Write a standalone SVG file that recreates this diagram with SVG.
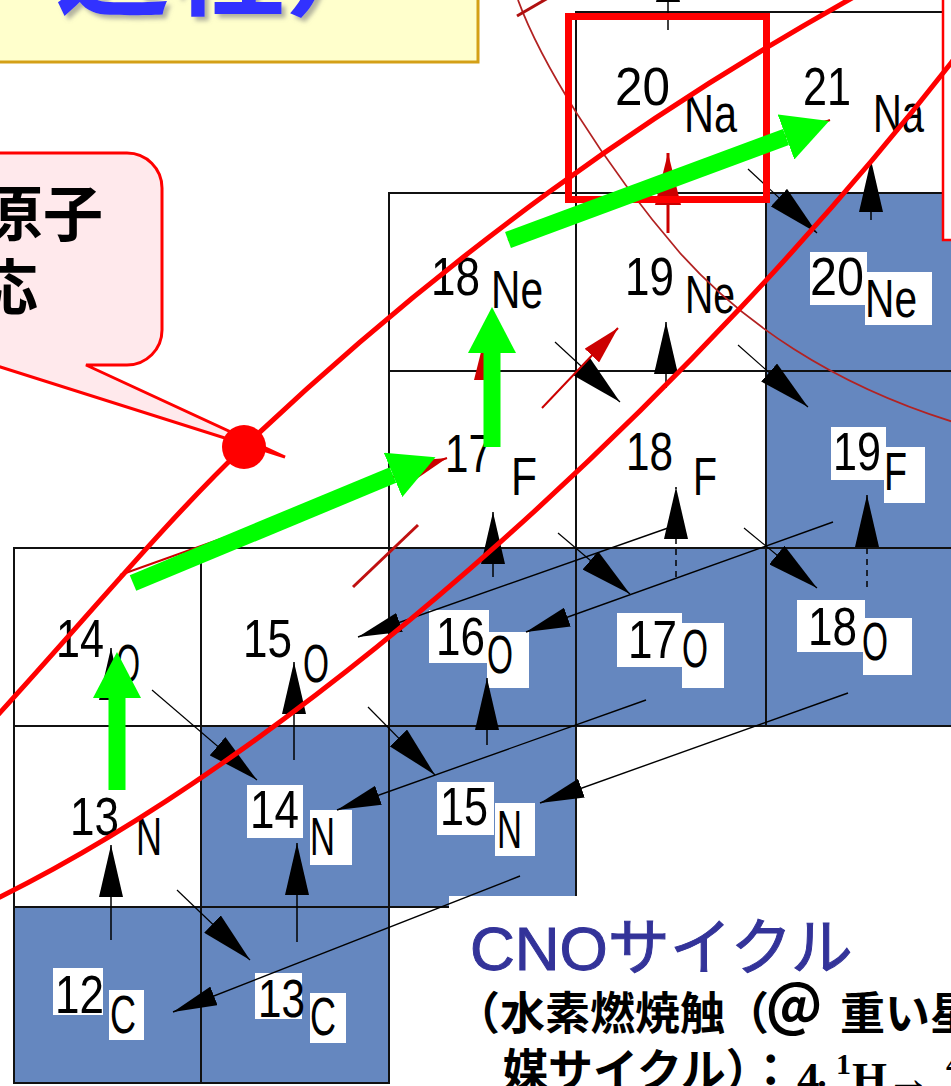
<svg xmlns="http://www.w3.org/2000/svg" width="951" height="1086" viewBox="0 0 951 1086">
<defs>
<style>
.cw{fill:#fff;stroke:#111;stroke-width:2}
.cb{fill:#6587BF;stroke:#111;stroke-width:2}
.lb{fill:#fff}
.t{font-family:'Liberation Sans',Arial,sans-serif;font-size:54px;fill:#000}
.up{stroke:#000;stroke-width:1.5;fill:none;marker-end:url(#hb)}
.dash{stroke-dasharray:6 5}
.dg{stroke:#000;stroke-width:1.2;fill:none;marker-end:url(#hb)}
.pa{stroke:#000;stroke-width:1.4;fill:none;marker-end:url(#hs)}
.rd{stroke:#CC0000;stroke-width:3;fill:none;marker-end:url(#hr)}
.rs{stroke:#CC0000;stroke-width:2;fill:none;marker-end:url(#hrs)}
.gr{stroke:#00FF00;stroke-width:17;fill:none;marker-end:url(#hg)}
.rc{stroke:#FF0000;stroke-width:5;fill:none}
.jp{font-family:'Noto Sans CJK JP',sans-serif}
</style>
<filter id="shadow" x="-10%" y="-50%" width="120%" height="200%"><feDropShadow dx="4" dy="4" stdDeviation="2" flood-color="#808080" flood-opacity="0.6"/></filter>
<marker id="hb" viewBox="0 -12 52 24" refX="52" refY="0" markerWidth="52" markerHeight="24" markerUnits="userSpaceOnUse" orient="auto"><path d="M0,-12L52,0L0,12Z" fill="#000"/></marker>
<marker id="hs" viewBox="0 -10 44 20" refX="44" refY="0" markerWidth="44" markerHeight="20" markerUnits="userSpaceOnUse" orient="auto"><path d="M0,-10L44,0L0,10Z" fill="#000"/></marker>
<marker id="hr" viewBox="0 -13 52 26" refX="52" refY="0" markerWidth="52" markerHeight="26" markerUnits="userSpaceOnUse" orient="auto"><path d="M0,-13L52,0L0,13Z" fill="#CC0000"/></marker>
<marker id="hrs" viewBox="0 -10 38 20" refX="38" refY="0" markerWidth="38" markerHeight="20" markerUnits="userSpaceOnUse" orient="auto"><path d="M0,-10L38,0L0,10Z" fill="#CC0000"/></marker>
<marker id="hg" viewBox="0 -24 46 48" refX="0" refY="0" markerWidth="46" markerHeight="48" markerUnits="userSpaceOnUse" orient="auto"><path d="M0,-24L46,0L0,24Z" fill="#00FF00"/></marker>
</defs>
<rect width="951" height="1086" fill="#fff"/>

<g id="title-box">
<rect x="-10" y="-10" width="488" height="72" fill="#FFFFCC" stroke="#D4A017" stroke-width="3"/>
<text x="55" y="6" class="jp" font-size="115" font-weight="700" fill="#3333FF" filter="url(#shadow)">過程）</text>
</g>

<g id="n20Na"><rect class="cw" x="576" y="12" width="190" height="181"/><text class="t" x="615" y="105" textLength="55" lengthAdjust="spacingAndGlyphs">20</text><text class="t" x="684" y="132" textLength="53" lengthAdjust="spacingAndGlyphs">Na</text></g>
<g id="n21Na"><rect class="cw" x="766" y="12" width="190" height="181"/><text class="t" x="803" y="105" textLength="48" lengthAdjust="spacingAndGlyphs">21</text><text class="t" x="873" y="132" textLength="51" lengthAdjust="spacingAndGlyphs">Na</text></g>
<g id="n18Ne"><rect class="cw" x="389" y="193" width="187" height="178"/><text class="t" x="431" y="295" textLength="49" lengthAdjust="spacingAndGlyphs">18</text><text class="t" x="491" y="308" textLength="52" lengthAdjust="spacingAndGlyphs">Ne</text></g>
<g id="n19Ne"><rect class="cw" x="576" y="193" width="190" height="178"/><text class="t" x="625" y="295" textLength="49" lengthAdjust="spacingAndGlyphs">19</text><text class="t" x="685" y="313" textLength="50" lengthAdjust="spacingAndGlyphs">Ne</text></g>
<g id="n20Ne"><rect class="cb" x="766" y="193" width="190" height="178"/><rect class="lb" x="810" y="252" width="57" height="53"/><rect class="lb" x="865" y="272" width="67" height="53"/><text class="t" x="810" y="295" textLength="54" lengthAdjust="spacingAndGlyphs">20</text><text class="t" x="865" y="317" textLength="52" lengthAdjust="spacingAndGlyphs">Ne</text></g>
<g id="n17F"><rect class="cw" x="389" y="371" width="187" height="177"/><text class="t" x="445" y="472" textLength="47" lengthAdjust="spacingAndGlyphs">17</text><text class="t" x="511" y="495" textLength="26" lengthAdjust="spacingAndGlyphs">F</text></g>
<g id="n18F"><rect class="cw" x="576" y="371" width="190" height="177"/><text class="t" x="626" y="470" textLength="47" lengthAdjust="spacingAndGlyphs">18</text><text class="t" x="693" y="495" textLength="24" lengthAdjust="spacingAndGlyphs">F</text></g>
<g id="n19F"><rect class="cb" x="766" y="371" width="190" height="177"/><rect class="lb" x="831" y="427" width="55" height="53"/><rect class="lb" x="884" y="447" width="41" height="56"/><text class="t" x="833" y="470" textLength="48" lengthAdjust="spacingAndGlyphs">19</text><text class="t" x="884" y="490" textLength="23" lengthAdjust="spacingAndGlyphs">F</text></g>
<g id="n14O"><rect class="cw" x="14" y="548" width="187" height="178"/><text class="t" x="56" y="657" textLength="48" lengthAdjust="spacingAndGlyphs">14</text><text class="t" x="116" y="682" textLength="24" lengthAdjust="spacingAndGlyphs">O</text></g>
<g id="n15O"><rect class="cw" x="201" y="548" width="188" height="178"/><text class="t" x="243" y="657" textLength="49" lengthAdjust="spacingAndGlyphs">15</text><text class="t" x="303" y="682" textLength="26" lengthAdjust="spacingAndGlyphs">O</text></g>
<g id="n16O"><rect class="cb" x="389" y="548" width="187" height="178"/><rect class="lb" x="429" y="610" width="60" height="53"/><rect class="lb" x="487" y="632" width="42" height="56"/><text class="t" x="436" y="655" textLength="49" lengthAdjust="spacingAndGlyphs">16</text><text class="t" x="487" y="673" textLength="26" lengthAdjust="spacingAndGlyphs">O</text></g>
<g id="n17O"><rect class="cb" x="576" y="548" width="190" height="178"/><rect class="lb" x="617" y="613" width="65" height="54"/><rect class="lb" x="682" y="623" width="42" height="65"/><text class="t" x="628" y="658" textLength="49" lengthAdjust="spacingAndGlyphs">17</text><text class="t" x="682" y="667" textLength="26" lengthAdjust="spacingAndGlyphs">O</text></g>
<g id="n18O"><rect class="cb" x="766" y="548" width="190" height="178"/><rect class="lb" x="797" y="600" width="68" height="52"/><rect class="lb" x="863" y="618" width="49" height="57"/><text class="t" x="808" y="645" textLength="49" lengthAdjust="spacingAndGlyphs">18</text><text class="t" x="862" y="660" textLength="26" lengthAdjust="spacingAndGlyphs">O</text></g>
<g id="n13N"><rect class="cw" x="14" y="726" width="187" height="181"/><text class="t" x="70" y="835" textLength="49" lengthAdjust="spacingAndGlyphs">13</text><text class="t" x="136" y="855" textLength="26" lengthAdjust="spacingAndGlyphs">N</text></g>
<g id="n14N"><rect class="cb" x="201" y="726" width="188" height="181"/><rect class="lb" x="247" y="785" width="56" height="53"/><rect class="lb" x="310" y="810" width="42" height="55"/><text class="t" x="250" y="828" textLength="49" lengthAdjust="spacingAndGlyphs">14</text><text class="t" x="310" y="855" textLength="25" lengthAdjust="spacingAndGlyphs">N</text></g>
<g id="n15N"><rect class="cb" x="389" y="726" width="187" height="181"/><rect class="lb" x="437" y="782" width="57" height="53"/><rect class="lb" x="495" y="803" width="40" height="53"/><text class="t" x="440" y="825" textLength="48" lengthAdjust="spacingAndGlyphs">15</text><text class="t" x="497" y="848" textLength="25" lengthAdjust="spacingAndGlyphs">N</text></g>
<g id="n12C"><rect class="cb" x="14" y="907" width="187" height="176"/><rect class="lb" x="53" y="968" width="50" height="47"/><rect class="lb" x="109" y="990" width="35" height="50"/><text class="t" x="55" y="1013" textLength="49" lengthAdjust="spacingAndGlyphs">12</text><text class="t" x="110" y="1033" textLength="26" lengthAdjust="spacingAndGlyphs">C</text></g>
<g id="n13C"><rect class="cb" x="201" y="907" width="188" height="176"/><rect class="lb" x="255" y="973" width="47" height="46"/><rect class="lb" x="310" y="993" width="36" height="50"/><text class="t" x="258" y="1017" textLength="47" lengthAdjust="spacingAndGlyphs">13</text><text class="t" x="310" y="1035" textLength="26" lengthAdjust="spacingAndGlyphs">C</text></g>

<rect id="caption-bg" x="449" y="896" width="510" height="200" fill="#fff"/>

<path id="arc" d="M518,0 C540,60 600,160 680,253 C740,320 830,385 960,424" fill="none" stroke="#B22222" stroke-width="1.8"/>

<g id="connectors">
<line class="up" x1="111" y1="940" x2="111" y2="845"/>
<line class="up" x1="297" y1="942" x2="297" y2="843"/>
<line class="up" x1="294" y1="760" x2="294" y2="662"/>
<line class="up" x1="487" y1="745" x2="487" y2="678"/>
<line class="up" x1="493" y1="577" x2="493" y2="512"/>
<line class="up dash" x1="676" y1="577" x2="676" y2="487"/>
<line class="up dash" x1="867" y1="587" x2="867" y2="495"/>
<line class="up" x1="666" y1="388" x2="666" y2="322"/>
<line class="up" x1="871" y1="220" x2="871" y2="160"/>
<line class="up" x1="668" y1="30" x2="668" y2="-50"/>
<line class="up" x1="111" y1="740" x2="111" y2="648"/>
<line class="dg" x1="177" y1="890" x2="250" y2="960"/>
<line class="dg" x1="152" y1="690" x2="257" y2="780"/>
<line class="dg" x1="368" y1="707" x2="435" y2="775"/>
<line class="dg" x1="558" y1="533" x2="630" y2="594"/>
<line class="dg" x1="744" y1="528" x2="817" y2="588"/>
<line class="dg" x1="555" y1="342" x2="620" y2="402"/>
<line class="dg" x1="738" y1="345" x2="808" y2="407"/>
<line class="dg" x1="748" y1="169" x2="817" y2="233"/>
<line class="pa" x1="520" y1="876" x2="173" y2="1012"/>
<line class="pa" x1="848" y1="693" x2="540" y2="803"/>
<line class="pa" x1="646" y1="700" x2="337" y2="810"/>
<line class="pa" x1="833" y1="522" x2="526" y2="632"/>
<line class="pa" x1="668" y1="528" x2="358" y2="637"/>
<line class="rd" x1="668" y1="233" x2="668" y2="153"/>
<line class="rd" x1="487" y1="400" x2="487" y2="328"/>
<line class="rs" x1="542" y1="408" x2="618" y2="328" stroke-width="3"/>
<line x1="353" y1="587" x2="418" y2="525" stroke="#C01010" stroke-width="3"/>
<line x1="517" y1="16" x2="548" y2="-2" stroke="#B01010" stroke-width="3"/>
<line class="rs" x1="120" y1="575" x2="447" y2="458"/>
<line class="rs" x1="508" y1="240" x2="830" y2="120"/>
</g>

<rect id="highlight" x="568.5" y="16.5" width="198" height="183" fill="none" stroke="#FF0000" stroke-width="7"/>
<rect id="right-box" x="943" y="-10" width="30" height="250" fill="#fff" stroke="#FF0000" stroke-width="2.5"/>

<g id="curves">
<path class="rc" d="M-15,729 C80,626 164,523 244,447 C444,257 649,110 870,-12"/>
<path class="rc" d="M-20,906 L0,897 C320,738 700,385 951,63 L970,38"/>
</g>

<g id="callout">
<path d="M-60,153 H127 A35,35 0 0 1 162,188 V330 A35,35 0 0 1 127,365 H86 L285,457 L-6,365 H-60 Z" fill="#FFE9EC" stroke="#FF0000" stroke-width="3"/>
<circle cx="244" cy="447" r="22" fill="#FF0000"/>
<text class="jp" x="103" y="236" font-size="60" font-weight="700" text-anchor="end" fill="#000">原子</text>
<text class="jp" x="38" y="310" font-size="60" font-weight="700" text-anchor="end" fill="#000">応</text>
</g>

<g id="green-arrows">
<line class="gr" x1="117" y1="790" x2="117" y2="698"/>
<line class="gr" x1="133" y1="583" x2="393" y2="475"/>
<line class="gr" x1="492" y1="447" x2="492" y2="353"/>
<line class="gr" x1="508" y1="240" x2="786" y2="137"/>
</g>

<g id="caption">
<text x="470" y="970" font-family="'Liberation Sans','Noto Sans CJK JP',sans-serif" font-size="62" fill="#333399" stroke="#333399" stroke-width="1">CNOサイクル</text>
<text class="jp" y="1030" font-size="45" font-weight="700" fill="#000"><tspan x="455">（水素燃焼触</tspan><tspan x="724">（</tspan><tspan x="766" font-size="56">＠</tspan><tspan x="840">重い星</tspan></text>
<text class="jp" x="503" y="1087" font-size="45" font-weight="700" fill="#000">媒サイクル）：</text>
<text font-family="'Liberation Serif','Noto Sans CJK JP',serif" font-weight="700" font-size="45" fill="#000" y="1093"><tspan x="797">4</tspan><tspan x="810" class="jp" font-size="24">・</tspan><tspan x="836" y="1074" font-size="30">1</tspan><tspan x="852" y="1093">H</tspan><tspan x="886">→</tspan><tspan x="946" y="1074" font-size="30">4</tspan></text>
</g>
</svg>
